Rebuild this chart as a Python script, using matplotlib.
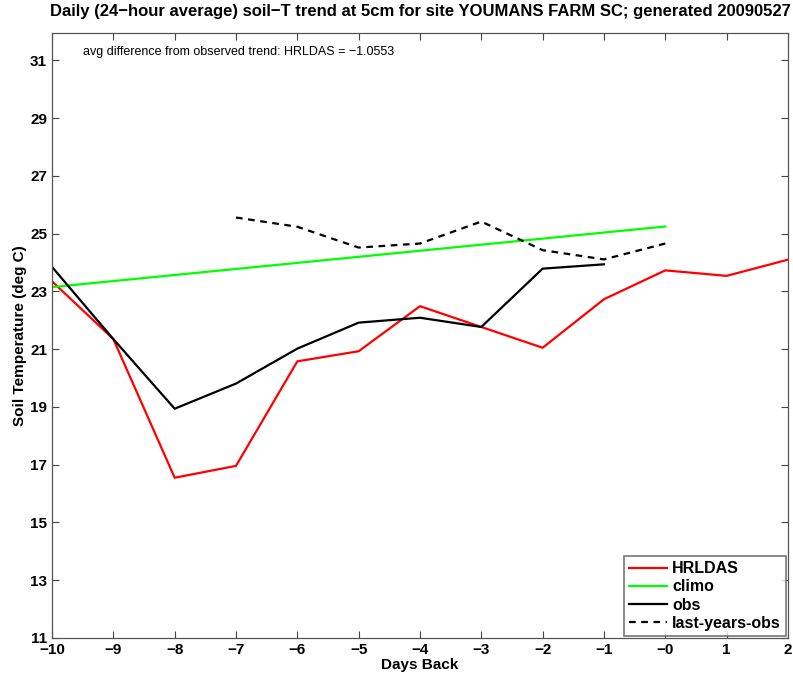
import matplotlib
matplotlib.use('Agg')
import matplotlib.pyplot as plt

plt.rcParams['font.family'] = ['Liberation Sans', 'DejaVu Sans']

# Data
days = [-10, -9, -8, -7, -6, -5, -4, -3, -2, -1, 0, 1, 2]
hrldas = [23.35, 21.35, 16.55, 16.96, 20.58, 20.93, 22.49, 21.77, 21.05, 22.73, 23.73, 23.54, 24.1]

climo_days = [-10, 0]
climo = [23.15, 25.25]

obs_days = [-10, -9, -8, -7, -6, -5, -4, -3, -2, -1]
obs = [23.85, 21.35, 18.94, 19.81, 21.02, 21.92, 22.09, 21.77, 23.79, 23.94]

last_days = [-7, -6, -5, -4, -3, -2, -1, 0]
last_obs = [25.56, 25.24, 24.52, 24.66, 25.42, 24.43, 24.11, 24.66]

xtick_vals = list(range(-10, 3))
xtick_labels = ['\u221210', '\u22129', '\u22128', '\u22127', '\u22126', '\u22125', '\u22124',
                '\u22123', '\u22122', '\u22121', '\u22120', '1', '2']
ytick_vals = list(range(11, 32, 2))

fig = plt.figure(figsize=(7.93, 6.79), dpi=100)
ax = fig.add_axes([0.0656, 0.0604, 0.928, 0.891])

ax.plot(days, hrldas, color='#ff0000', lw=1.6, label='HRLDAS')
ax.plot(climo_days, climo, color='#00ff00', lw=1.6, label='climo')
ax.plot(obs_days, obs, color='black', lw=1.6, label='obs')
ax.plot(last_days, last_obs, color='black', lw=1.6, ls=(0, (3, 2.5)), label='last-years-obs')

ax.set_xlim(-10, 2)
ax.set_ylim(11, 31.95)
ax.set_xticks(xtick_vals)
ax.set_xticklabels(xtick_labels)
ax.set_yticks(ytick_vals)
ax.tick_params(direction='in', top=True, right=True, length=5, width=0.8,
               colors='#444444', labelcolor='black', labelsize=11)
for lbl in ax.get_xticklabels() + ax.get_yticklabels():
    lbl.set_fontweight('bold')
for s in ax.spines.values():
    s.set_color('#555555')
    s.set_linewidth(0.9)

ax.set_xlabel('Days Back', fontsize=11, fontweight='bold', labelpad=1)
ax.set_ylabel('Soil Temperature (deg C)', fontsize=11, fontweight='bold', labelpad=2)
ax.set_title('Daily (24\u2212hour average) soil\u2212T trend at 5cm for site YOUMANS FARM SC; generated 20090527',
             fontsize=12, fontweight='bold', pad=12)

ax.text(-9.5, 31.28, 'avg difference from observed trend: HRLDAS = \u22121.0553',
        fontsize=9, va='center', ha='left')

leg = ax.legend(loc='lower right', prop={'weight': 'bold', 'size': 11.5},
                frameon=True, fancybox=False, borderpad=0.3, labelspacing=0.2,
                handlelength=2.4, handletextpad=0.3, borderaxespad=0.15)
leg.get_frame().set_edgecolor('#555555')
leg.get_frame().set_linewidth(1.2)

fig.savefig('out.png', dpi=100)
